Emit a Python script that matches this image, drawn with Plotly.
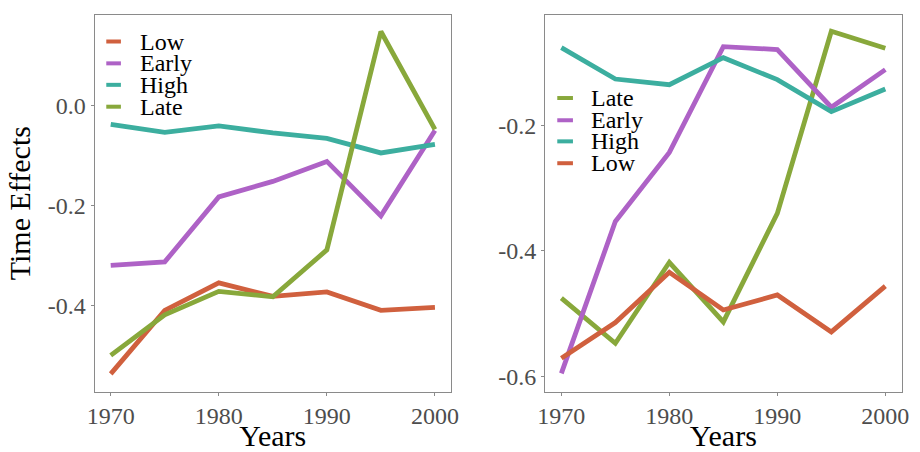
import plotly.graph_objects as go
from plotly.subplots import make_subplots

years = [1970, 1975, 1980, 1985, 1990, 1995, 2000]

# Panel 1 time effects
left_low = [-0.536, -0.409, -0.354, -0.381, -0.372, -0.409, -0.403]
left_early = [-0.319, -0.312, -0.182, -0.151, -0.111, -0.220, -0.049]
left_high = [-0.037, -0.053, -0.040, -0.054, -0.065, -0.094, -0.077]
left_late = [-0.499, -0.418, -0.371, -0.382, -0.288, 0.149, -0.047]

# Panel 2 time effects
right_late = [-0.475, -0.547, -0.418, -0.513, -0.340, -0.050, -0.077]
right_early = [-0.595, -0.353, -0.243, -0.0745, -0.079, -0.171, -0.111]
right_high = [-0.076, -0.126, -0.135, -0.092, -0.127, -0.178, -0.142]
right_low = [-0.571, -0.514, -0.434, -0.494, -0.470, -0.529, -0.456]

left_order = ["Low", "Early", "High", "Late"]
right_order = ["Late", "Early", "High", "Low"]

colors = {"Low": "#D0603E", "Early": "#AE62C6", "High": "#3CAE9F", "Late": "#88A83B"}

left_series = {"Low": left_low, "Early": left_early, "High": left_high, "Late": left_late}
right_series = {"Late": right_late, "Early": right_early, "High": right_high, "Low": right_low}

FONT = "Liberation Serif, Times New Roman, serif"

fig = make_subplots(rows=1, cols=2)

for name in left_order:
    fig.add_trace(go.Scatter(x=years, y=left_series[name], mode="lines", name=name,
                             line=dict(color=colors[name], width=4.8), showlegend=False),
                  row=1, col=1)
for name in right_order:
    fig.add_trace(go.Scatter(x=years, y=right_series[name], mode="lines", name=name,
                             line=dict(color=colors[name], width=4.8), showlegend=False),
                  row=1, col=2)

# Legend keys drawn in axis-domain coordinates
def add_legend(order, xref, yref, ys, kx0, kx1, tx):
    for name, yy in zip(order, ys):
        fig.add_shape(type="line", xref=xref, yref=yref, x0=kx0, x1=kx1, y0=yy, y1=yy,
                      line=dict(color=colors[name], width=4))
        fig.add_annotation(xref=xref, yref=yref, x=tx, y=yy, text=name, showarrow=False,
                           xanchor="left", yanchor="middle",
                           font=dict(family=FONT, size=24, color="black"))

add_legend(left_order, "x domain", "y domain", [0.929, 0.871, 0.814, 0.756], 0.033, 0.074, 0.121)
add_legend(right_order, "x2 domain", "y2 domain", [0.779, 0.720, 0.664, 0.606], 0.034, 0.078, 0.124)

axis_common = dict(showline=True, linecolor="#8A8A8A", linewidth=1, mirror=True,
                   showgrid=False, zeroline=False, ticks="outside", ticklen=3,
                   tickcolor="#8A8A8A", tickwidth=1,
                   tickfont=dict(family=FONT, size=24, color="#4D4D4D"))

fig.update_xaxes(axis_common)
fig.update_yaxes(axis_common)

fig.update_xaxes(range=[1968.5, 2001.5], tickvals=[1970, 1980, 1990, 2000],
                 title=dict(text="Years", font=dict(family=FONT, size=30, color="black"), standoff=2))
fig.update_xaxes(domain=[0.0957, 0.4902], row=1, col=1)
fig.update_xaxes(domain=[0.5942, 0.9884], row=1, col=2)

fig.update_yaxes(domain=[0.124, 0.967])
fig.update_yaxes(range=[-0.5715, 0.1825], tickvals=[0.0, -0.2, -0.4],
                 ticktext=["0.0", "-0.2", "-0.4"],
                 title=dict(text="Time Effects", font=dict(family=FONT, size=30, color="black"), standoff=8),
                 row=1, col=1)
fig.update_yaxes(range=[-0.624, -0.0236], tickvals=[-0.2, -0.4, -0.6],
                 ticktext=["-0.2", "-0.4", "-0.6"], row=1, col=2)

fig.update_layout(width=920, height=452, margin=dict(l=0, r=0, t=0, b=0),
                  paper_bgcolor="white", plot_bgcolor="white",
                  font=dict(family=FONT))

fig.write_html("out.html")
